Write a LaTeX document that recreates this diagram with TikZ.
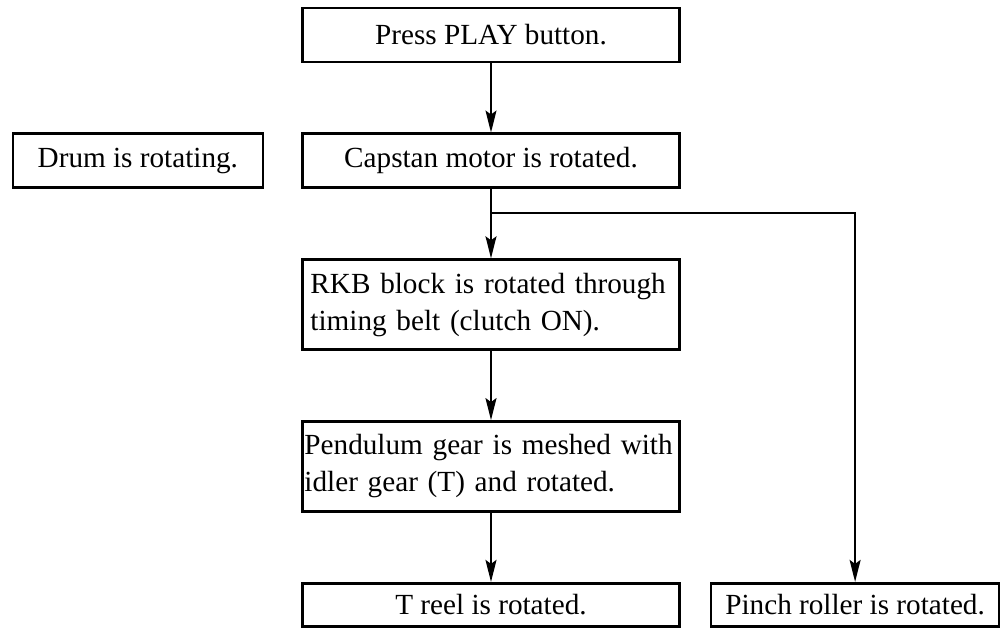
\documentclass[tikz,border=0pt]{standalone}
\usepackage{fontspec}
\setmainfont{Liberation Serif}
\usetikzlibrary{arrows.meta, positioning}

\begin{document}
\begin{tikzpicture}[
  font=\fontsize{14.6}{18.5}\selectfont,
  node distance=34.6pt,
  >={Stealth[length=11pt, width=5.5pt, inset=2pt]},
  box/.style={rectangle, draw=black, line width=1.3pt, fill=white, align=center,
              minimum width=188.5pt, minimum height=27pt, inner sep=0pt},
  side/.style={box, minimum width=125pt},
  twoline/.style={box, align=left, minimum height=45pt, text width=180.5pt, inner xsep=4pt},
  last/.style={box, minimum height=21.5pt},
  arr/.style={->, line width=0.9pt},
]
\useasboundingbox (-245.5pt,17.5pt) rectangle (255pt,-297.5pt);

% --- main column ---
\node[box] (play) at (0,0) {Press PLAY button.};
\node[box, below=of play] (capstan) {Capstan motor is rotated.};
\node[twoline, below=of capstan] (rkb)
  {RKB block is rotated through\\timing belt (clutch ON).};
\node[twoline, below=of rkb, inner xsep=1pt, text width=186.5pt] (pend)
  {Pendulum gear is meshed with\\idler gear (T) and rotated.};
\node[last, below=of pend] (treel) {T reel is rotated.};

% --- side boxes ---
\node[side, left=18.5pt of capstan] (drum) {Drum is rotating.};
\node[last, minimum width=144pt, right=14.5pt of treel] (pinch) {Pinch roller is rotated.};

% --- arrows ---
\coordinate (split) at ([yshift=-12pt]capstan.south);
\draw[arr] (play) -- (capstan);
\draw[arr] (capstan) -- (rkb);
\draw[arr] (split) -| (pinch);
\draw[arr] (rkb) -- (pend);
\draw[arr] (pend) -- (treel);

\end{tikzpicture}
\end{document}
